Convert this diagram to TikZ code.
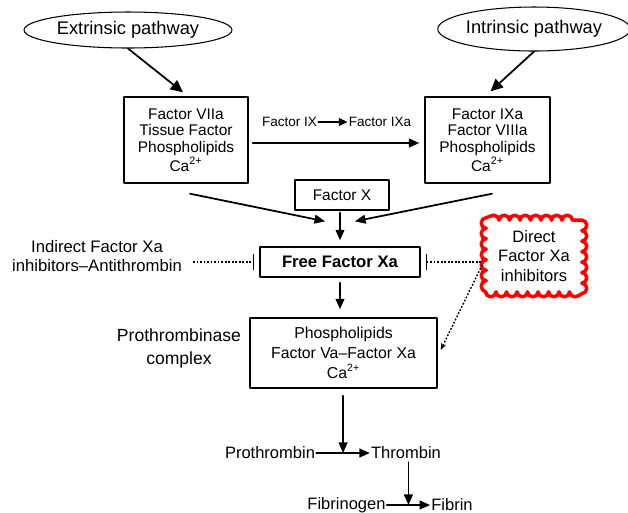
\documentclass[tikz,border=0pt]{standalone}
\usepackage{fontspec}
\setmainfont{Liberation Sans}
\usetikzlibrary{arrows.meta,shapes.geometric,decorations.pathmorphing,calc}
\begin{document}
\begin{tikzpicture}[x=0.02cm,y=-0.02cm,line cap=round,line join=round]
  \tikzset{
    pathway/.style={draw,ellipse,line width=0.6pt,inner sep=0pt,font=\fontsize{10.4}{12}\selectfont},
    factorbox/.style={draw,line width=0.8pt,align=center,inner sep=0pt,font=\fontsize{8.8}{9.4}\selectfont},
    sidetext/.style={align=center,inner sep=0.5pt,font=\fontsize{9.5}{10.8}\selectfont},
    flow/.style={line width=1pt,-{Triangle[length=6pt,width=5pt]}},
    bigflow/.style={line width=1pt,-{Triangle[length=7pt,width=6.5pt]}},
    inhibit/.style={line width=1.1pt,line cap=butt,dash pattern=on 1pt off 1pt,-{Bar[width=9pt,line width=1pt]}},
  }
  \useasboundingbox (0,0) rectangle (628,512);
  % pathways and their complexes
  \node[pathway,minimum width=4.16cm,minimum height=0.72cm] (extr) at (128,30) {Extrinsic pathway};
  \node[pathway,minimum width=3.8cm,minimum height=0.88cm] (intr) at (534,29) {Intrinsic pathway};
  \node[factorbox,minimum width=2.48cm,minimum height=1.72cm] (viicx) at (186,140)
    {Factor VIIa\\Tissue Factor\\Phospholipids\\Ca\textsuperscript{2+}};
  \node[factorbox,minimum width=2.5cm,minimum height=1.72cm] (ixacx) at (487.5,140)
    {Factor IXa\\Factor VIIIa\\Phospholipids\\Ca\textsuperscript{2+}};
  \draw[bigflow] (extr.south) -- ($(viicx.north)+(-3,-4)$);
  \draw[bigflow] (intr.south) -- ($(ixacx.north)+(3,-5)$);
  \node[inner sep=0.5pt,font=\fontsize{7.7}{9}\selectfont] (ix) at (289.5,122) {Factor IX};
  \node[inner sep=0.5pt,font=\fontsize{7.7}{9}\selectfont] (ixa) at (380,122) {Factor IXa};
  \draw[line width=0.8pt,-{Triangle[length=5pt,width=4.5pt]}] (ix) -- (ixa);
  \draw[flow] ($(viicx.east)+(4,3)$) -- ($(ixacx.west)+(-5,3)$);
  % factor X activation
  \node[factorbox,minimum width=1.88cm,minimum height=0.6cm] (fx) at (342,195) {Factor X};
  \node[factorbox,minimum width=3.2cm,minimum height=0.6cm,font=\fontsize{9.5}{11}\selectfont\bfseries]
    (fxa) at (340,262) {Free Factor Xa};
  \draw[flow] ($(viicx.south)+(4,10)$) -- ($(fxa.north)+(-15,-25)$);
  \draw[flow] ($(ixacx.south)+(4.5,10)$) -- ($(fxa.north)+(15,-25)$);
  \draw[flow,shorten <=0.04cm,shorten >=0.12cm] (fx.south -| fxa.north) -- (fxa.north);
  % inhibitors
  \node[sidetext] (indir) at (97,256) {Indirect Factor Xa\\inhibitors--Antithrombin};
  \node[sidetext,minimum width=2.1cm,minimum height=1.62cm,font=\fontsize{9.4}{11.3}\selectfont]
    (cloud) at (534,256) {Direct\\Factor Xa\\inhibitors};
  \draw[red,line width=2pt,decorate,decoration={bumps,segment length=0.42cm,amplitude=0.1cm}]
    ($(cloud.north east)+(-5,5)$) rectangle ($(cloud.south west)+(5,-5)$);
  \draw[inhibit,shorten <=0.2cm,shorten >=0.1cm] (indir.east |- fxa) -- (fxa);
  \draw[inhibit,shorten >=0.1cm] (cloud.west |- fxa) -- (fxa);
  % prothrombinase
  \node[factorbox,minimum width=3.74cm,minimum height=1.4cm,font=\fontsize{9}{11.3}\selectfont]
    (pcx) at (343.5,353) {Phospholipids\\Factor Va--Factor Xa\\Ca\textsuperscript{2+}};
  \node[sidetext,font=\fontsize{10}{12.8}\selectfont] (pcname) at (179,348.5) {Prothrombinase\\complex};
  \draw[flow,shorten <=0.1cm,shorten >=0.16cm] (fxa.south) -- (fxa.south |- pcx.north);
  \draw[line width=0.8pt,line cap=butt,dash pattern=on 1pt off 1pt,-{Stealth[length=4pt,width=3pt]}]
    ($(cloud.west)+(1,9)$) -- ($(pcx.east)+(3,-3)$);
  % thrombin and fibrin
  \node[sidetext,font=\fontsize{9.4}{11}\selectfont] (proth) at (270,453) {Prothrombin};
  \node[sidetext,font=\fontsize{9.4}{11}\selectfont] (thr) at (406,453) {Thrombin};
  \draw[flow] (proth) -- coordinate (ptmid) (thr);
  \draw[flow,shorten <=0.14cm] (pcx.south -| ptmid) -- (ptmid);
  \node[sidetext,font=\fontsize{9.4}{11}\selectfont] (fgen) at (346.5,505) {Fibrinogen};
  \node[sidetext,font=\fontsize{9.4}{11}\selectfont] (fib) at (452,505) {Fibrin};
  \draw[flow] (fgen) -- coordinate (ffmid) (fib);
  \draw[flow,shorten <=0.04cm] (thr.south -| ffmid) -- (ffmid);
\end{tikzpicture}
\end{document}
